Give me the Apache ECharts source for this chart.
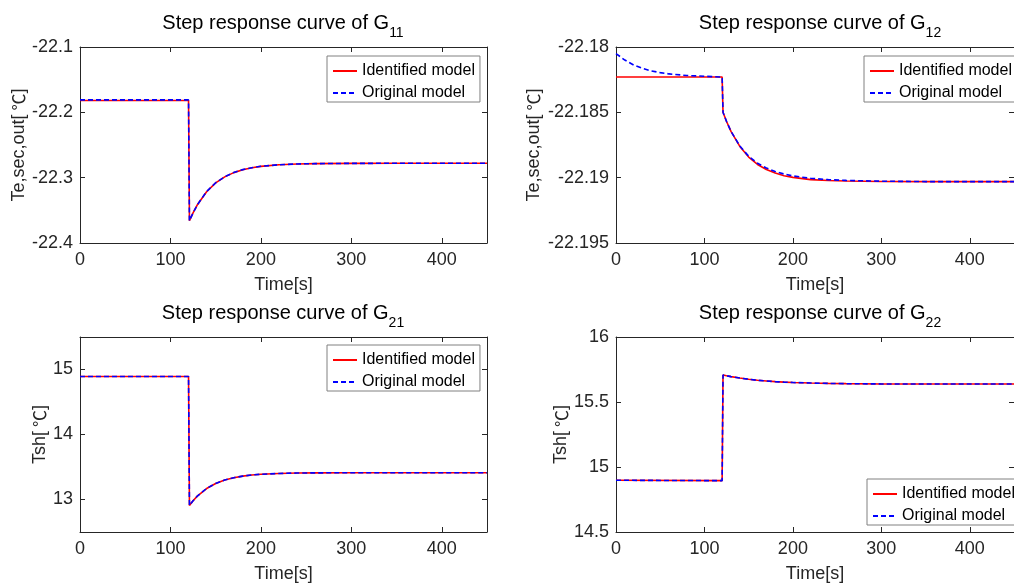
<!DOCTYPE html>
<html><head><meta charset="utf-8">
<script src="https://cdn.jsdelivr.net/npm/echarts@6/dist/echarts.min.js"></script>
<style>html,body{margin:0;padding:0;background:#fff}#c{width:1014px;height:585px}</style>
</head><body><div id="c"></div>
<script>
// ---- data ----
const timeA = [0,120,121,125,130,140,150,160,170,180,190,200,220,240,260,300,350,400,450];
const timeB = [0,5,10,20,30,40,50,60,80,100,120,121,125,130,140,150,160,170,180,190,200,220,240,260,300,350,400,450];

const g11Ident = [-22.182,-22.182,-22.366,-22.354,-22.341,-22.3215,-22.308,-22.2988,-22.2923,-22.2879,-22.2848,-22.2827,-22.2803,-22.2791,-22.2785,-22.2781,-22.278,-22.278,-22.278];
const g11Orig  = [-22.181,-22.181,-22.366,-22.354,-22.341,-22.3212,-22.3078,-22.2986,-22.2921,-22.2877,-22.2847,-22.2826,-22.2802,-22.2790,-22.2785,-22.2781,-22.278,-22.278,-22.278];

const g12Ident = [-22.1823,-22.1823,-22.1823,-22.1823,-22.1823,-22.1823,-22.1823,-22.1823,-22.1823,-22.1823,-22.1823,
  -22.1850,-22.1857,-22.18646,-22.18761,-22.18842,-22.18899,-22.18938,-22.18965,-22.18985,-22.18998,-22.19015,-22.19022,-22.19026,-22.19029,-22.1903,-22.1903,-22.1903];
const g12Orig  = [-22.1805,-22.18075,-22.1810,-22.18138,-22.18164,-22.18183,-22.18196,-22.18206,-22.18218,-22.18224,-22.1823,
  -22.1850,-22.1857,-22.18645,-22.18758,-22.18836,-22.18890,-22.18926,-22.18953,-22.18972,-22.18987,-22.19005,-22.19015,-22.19021,-22.19027,-22.1903,-22.1903,-22.1903];

const g21Ident = [14.893,14.893,12.908,12.98,13.056,13.169,13.247,13.2995,13.335,13.36,13.3765,13.388,13.4008,13.4068,13.4096,13.4115,13.412,13.412,13.412];
const g21Orig  = [14.893,14.893,12.908,12.98,13.057,13.170,13.248,13.300,13.335,13.36,13.377,13.388,13.401,13.407,13.410,13.4115,13.412,13.412,13.412];

const g22Ident = [14.898,14.895,15.708,15.702,15.695,15.684,15.675,15.667,15.662,15.657,15.653,15.650,15.646,15.643,15.641,15.639,15.638,15.638,15.638];
const g22Orig  = [14.898,14.895,15.708,15.702,15.695,15.684,15.675,15.667,15.662,15.657,15.653,15.650,15.646,15.643,15.641,15.639,15.638,15.638,15.638];

const xTicks = [0,100,200,300,400];
const yTicks11 = [-22.4,-22.3,-22.2,-22.1];
const yTicks12 = [-22.195,-22.19,-22.185,-22.18];
const yTicks21 = [13,14,15];
const yTicks22 = [14.5,15,15.5,16];

const seriesNames = ['Identified model','Original model'];
const titleSubs = ['11','12','21','22'];
const yNamesPre = ['Te,sec,out[','Te,sec,out[','Tsh[','Tsh['];

// ---- layout ----
const FONT = "'Liberation Sans', Arial, sans-serif";
const CJK = "'Noto Sans CJK SC', sans-serif";
const AX = '#262626';
const panels = [
  {t:timeA, a:g11Ident, b:g11Orig, yMin:-22.4, yMax:-22.1, yT:yTicks11, grid:{left:80,top:47,width:407,height:196}, nameGap:52, legend:{left:327,top:56}, tx:283, ty:13},
  {t:timeB, a:g12Ident, b:g12Orig, yMin:-22.195, yMax:-22.18, yT:yTicks12, grid:{left:616,top:47,width:408,height:196}, nameGap:73, legend:{left:864,top:56}, tx:820, ty:13},
  {t:timeA, a:g21Ident, b:g21Orig, yMin:12.5, yMax:15.5, yT:yTicks21, grid:{left:80,top:337,width:407,height:195}, nameGap:31, legend:{left:327,top:345}, tx:283, ty:303},
  {t:timeA, a:g22Ident, b:g22Orig, yMin:14.5, yMax:16, yT:yTicks22, grid:{left:616,top:337,width:408,height:195}, nameGap:45, legend:{left:867,top:479}, tx:820, ty:303}
];

const grid=[], xAxis=[], yAxis=[], series=[], legend=[], graphic=[];
const axLine = {show:true, onZero:false, lineStyle:{color:AX, width:1}};
panels.forEach((p,i)=>{
  grid.push(Object.assign({containLabel:false}, p.grid));
  xAxis.push({gridIndex:i, type:'value', position:'bottom', min:0, max:450,
    axisLine:axLine, axisTick:{show:true, inside:true, length:5, customValues:xTicks, lineStyle:{color:AX}},
    axisLabel:{customValues:xTicks, fontSize:18, color:AX, fontFamily:FONT, margin:8},
    splitLine:{show:false}, name:'Time[s]', nameLocation:'middle', nameGap:33,
    nameTextStyle:{fontSize:18, color:AX, fontFamily:FONT}});
  xAxis.push({gridIndex:i, type:'value', position:'top', min:0, max:450,
    axisLine:axLine, axisTick:{show:true, inside:true, length:5, customValues:xTicks, lineStyle:{color:AX}},
    axisLabel:{show:false}, splitLine:{show:false}});
  yAxis.push({gridIndex:i, type:'value', position:'left', min:p.yMin, max:p.yMax,
    axisLine:axLine, axisTick:{show:true, inside:true, length:5, customValues:p.yT, lineStyle:{color:AX}},
    axisLabel:{customValues:p.yT, fontSize:18, color:AX, fontFamily:FONT, margin:7},
    splitLine:{show:false}, name:'{a|'+yNamesPre[i]+'}{c|℃}{a|]}', nameLocation:'middle', nameGap:p.nameGap,
    nameTextStyle:{fontSize:18, color:AX, fontFamily:FONT,
      rich:{a:{fontSize:18, color:AX, fontFamily:FONT}, c:{fontSize:17, color:AX, fontFamily:CJK, padding:[0,0,0,4]}}}});
  yAxis.push({gridIndex:i, type:'value', position:'right', min:p.yMin, max:p.yMax,
    axisLine:axLine, axisTick:{show:true, inside:true, length:5, customValues:p.yT, lineStyle:{color:AX}},
    axisLabel:{show:false}, splitLine:{show:false}});
  series.push({type:'line', name:seriesNames[0], xAxisIndex:2*i, yAxisIndex:2*i,
    data:p.t.map((x,k)=>[x,p.a[k]]), symbol:'none', showSymbol:false, z:2,
    lineStyle:{color:'#ff0000', width:1.6}, itemStyle:{color:'#ff0000'}});
  series.push({type:'line', name:seriesNames[1], xAxisIndex:2*i, yAxisIndex:2*i,
    data:p.t.map((x,k)=>[x,p.b[k]]), symbol:'none', showSymbol:false, z:3,
    lineStyle:{color:'#0000ff', width:1.6, type:[5,3]}, itemStyle:{color:'#0000ff'}});
  legend.push({left:p.legend.left, top:p.legend.top, orient:'vertical', data:seriesNames,
    itemWidth:24, itemHeight:18, itemGap:6, padding:[7,5,1,5], selectedMode:false,
    itemStyle:{opacity:0},
    borderColor:'#808080', borderWidth:1, backgroundColor:'#fff',
    textStyle:{fontSize:16, color:'#000', fontFamily:FONT}});
  graphic.push({type:'text', x:p.tx, y:p.ty, z:10, style:{
    text:'{a|Step response curve of G}{s|'+titleSubs[i]+'}', align:'center', verticalAlign:'top',
    fill:'#000', fontFamily:FONT,
    rich:{a:{fontSize:20, lineHeight:27, verticalAlign:'top', fill:'#000', fontFamily:FONT},
          s:{fontSize:14, verticalAlign:'bottom', fill:'#000', fontFamily:FONT}}}});
});

const chart = echarts.init(document.getElementById('c'), null, {renderer:'canvas'});
chart.setOption({animation:false, backgroundColor:'#fff', grid, xAxis, yAxis, series, legend, graphic});
</script></body></html>
